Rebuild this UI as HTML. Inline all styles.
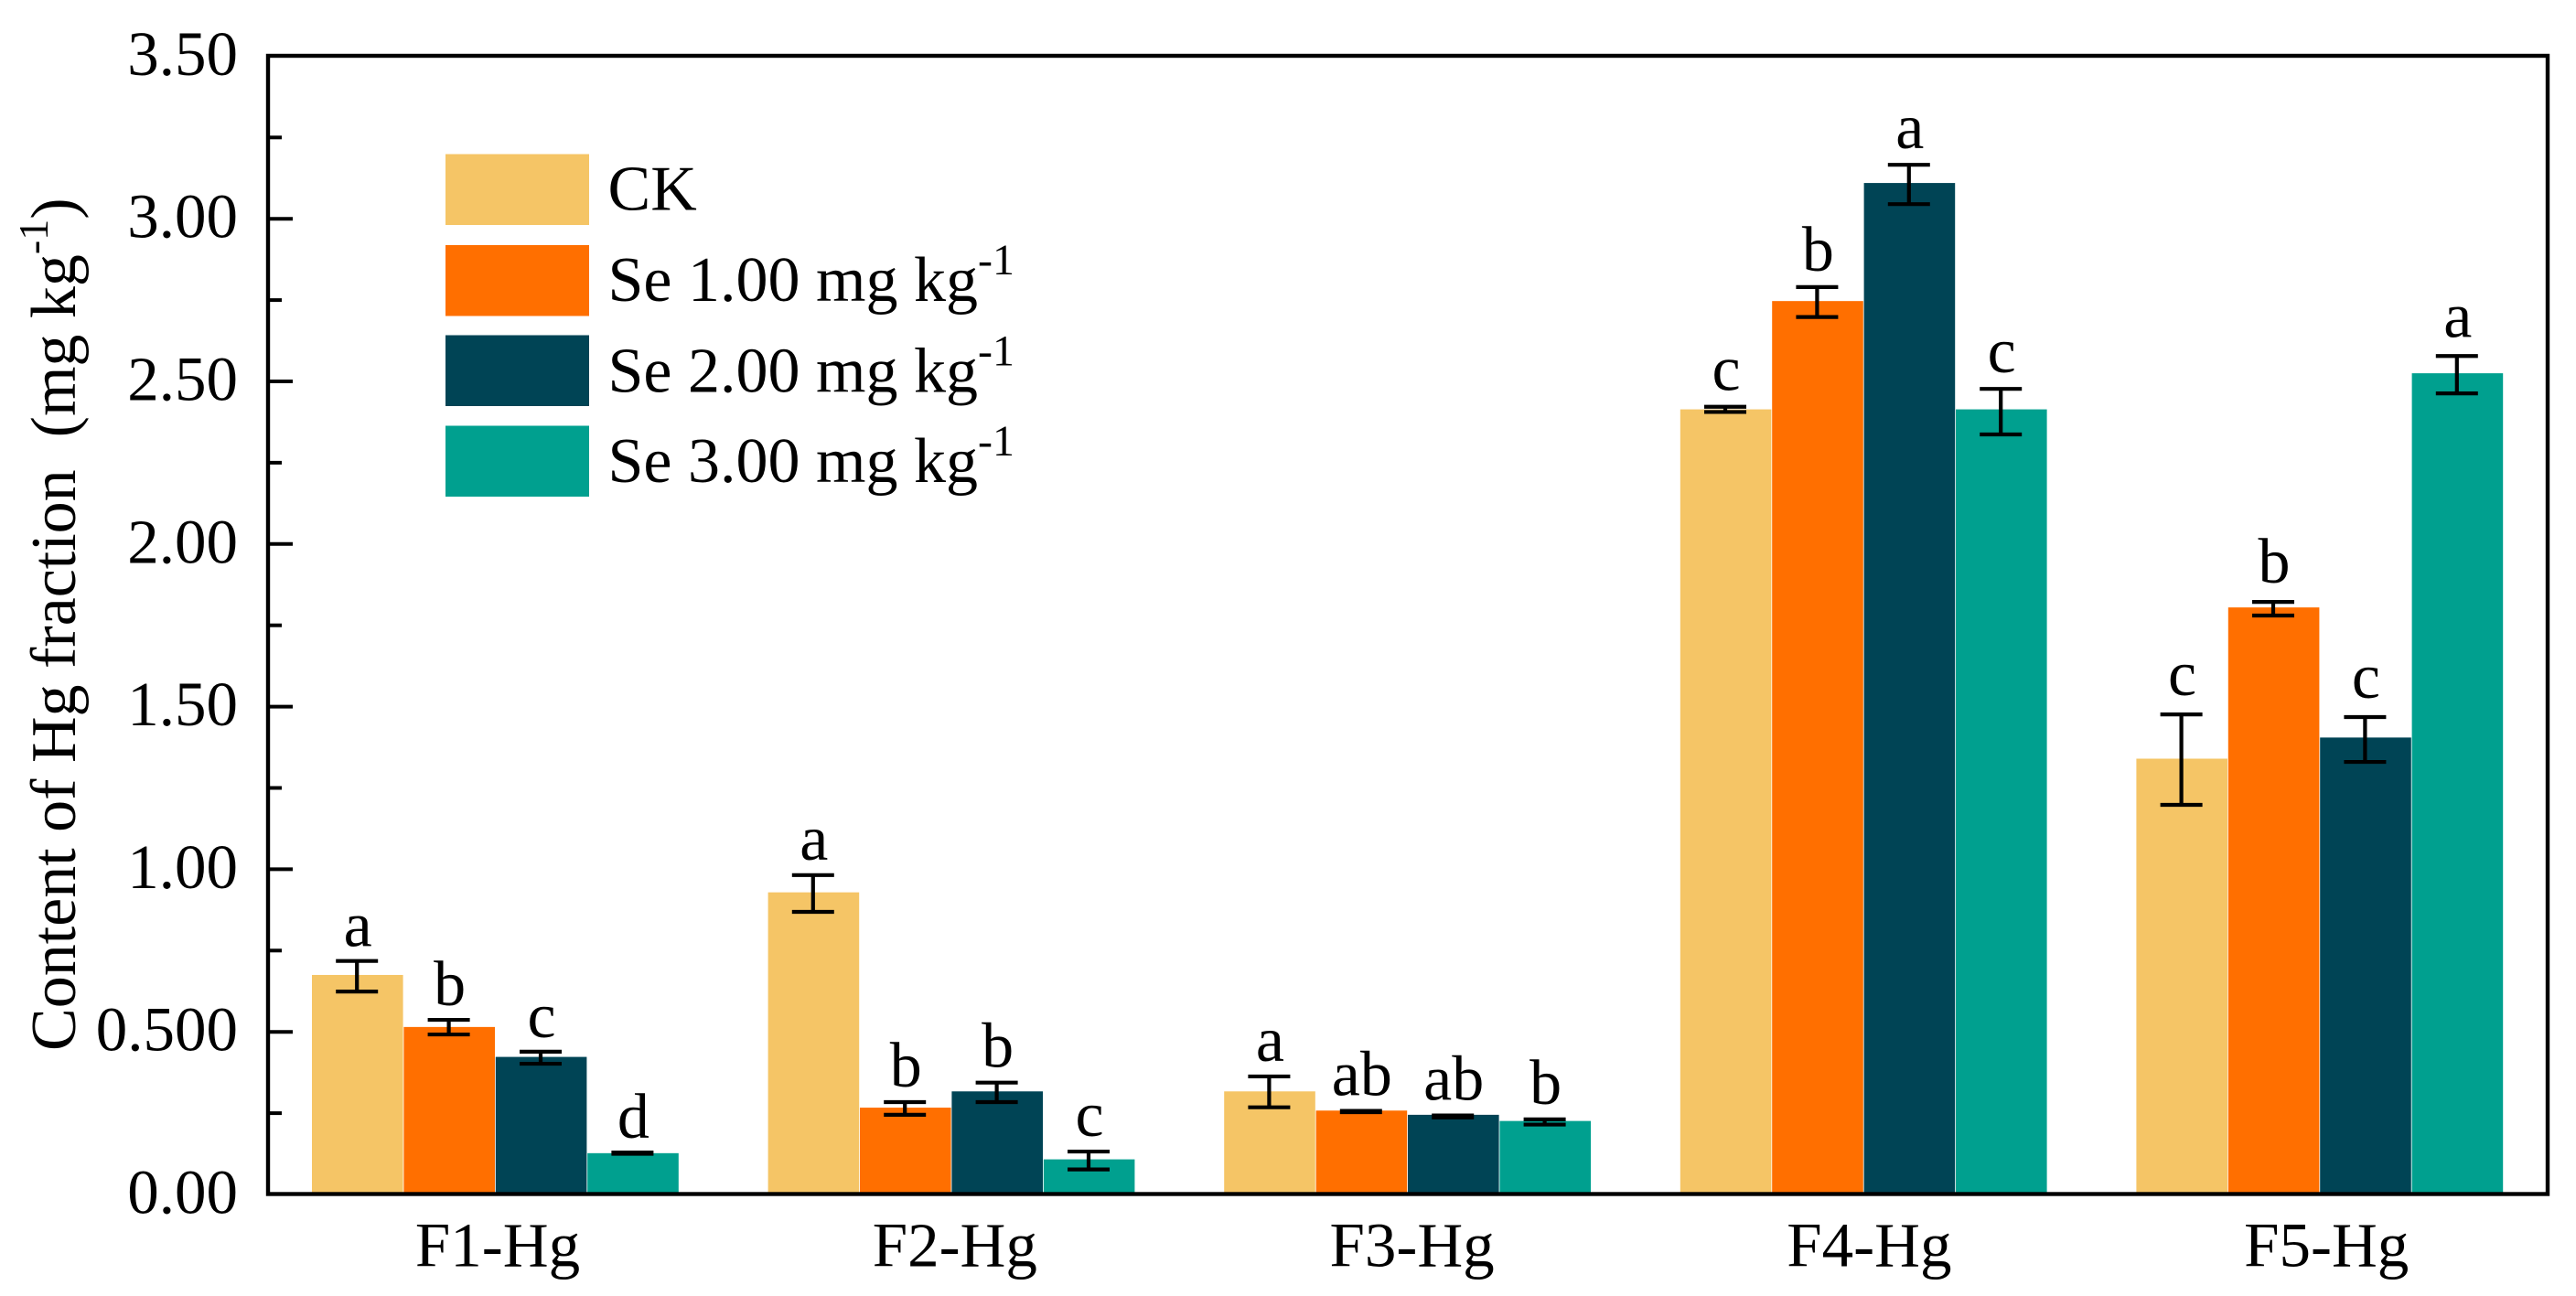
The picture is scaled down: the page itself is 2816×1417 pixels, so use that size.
<!DOCTYPE html>
<html lang="en">
<head>
<meta charset="utf-8">
<title>Content of Hg fraction</title>
<style>
html,body{margin:0;padding:0;background:#fff;}
svg{display:block;}
text{font-family:"Liberation Serif","Times New Roman",serif;fill:#000;white-space:pre;}
</style>
</head>
<body>
<svg id="chart" xmlns="http://www.w3.org/2000/svg" width="2816" height="1417" viewBox="0 0 2816 1417">
  <rect x="0" y="0" width="2816" height="1417" fill="#ffffff"/>
  <g id="bars"></g>
  <g id="errors"></g>
  <g id="letters"></g>
  <g id="axes"></g>
  <text transform="translate(82 1149) rotate(-90)" font-size="70">Content of Hg fraction  (mg kg<tspan font-size="46" dy="-30">-1</tspan><tspan dy="30">)</tspan></text>
  <g>
    <g>
      <rect x="487" y="168.5" width="157" height="77.5" fill="#F5C566"/>
      <text x="664.5" y="229.5" font-size="70">CK</text>
    </g>
    <g>
      <rect x="487" y="268" width="157" height="77.5" fill="#FF6F00"/>
      <text x="664.5" y="329" font-size="70">Se 1.00 mg kg<tspan font-size="48" dy="-29">-1</tspan></text>
    </g>
    <g>
      <rect x="487" y="366.5" width="157" height="77.5" fill="#004455"/>
      <text x="664.5" y="428.5" font-size="70">Se 2.00 mg kg<tspan font-size="48" dy="-29">-1</tspan></text>
    </g>
    <g>
      <rect x="487" y="465.5" width="157" height="77.5" fill="#00A08F"/>
      <text x="664.5" y="527" font-size="70">Se 3.00 mg kg<tspan font-size="48" dy="-29">-1</tspan></text>
    </g>
  </g>
</svg>
<script>
// ---- chart data ----
const categories = ["F1-Hg", "F2-Hg", "F3-Hg", "F4-Hg", "F5-Hg"];
const seriesKeys = ["ck", "se-1", "se-2", "se-3"];

const ckValues  = [0.675, 0.929, 0.317, 2.414, 1.340];
const se1Values = [0.515, 0.267, 0.258, 2.747, 1.805];
const se2Values = [0.423, 0.317, 0.245, 3.110, 1.405];
const se3Values = [0.127, 0.108, 0.226, 2.414, 2.525];

const ckErrHigh  = [0.718, 0.982, 0.363, 2.422, 1.476];
const ckErrLow   = [0.624, 0.869, 0.268, 2.406, 1.198];
const se1ErrHigh = [0.537, 0.284, 0.257, 2.790, 1.822];
const se1ErrLow  = [0.492, 0.245, 0.253, 2.698, 1.780];
const se2ErrHigh = [0.439, 0.344, 0.243, 3.166, 1.468];
const se2ErrLow  = [0.402, 0.284, 0.237, 3.045, 1.330];
const se3ErrHigh = [0.129, 0.132, 0.231, 2.477, 2.578];
const se3ErrLow  = [0.125, 0.077, 0.215, 2.337, 2.463];

const ckLetters  = ["a", "a", "a", "c", "c"];
const se1Letters = ["b", "b", "ab", "b", "b"];
const se2Letters = ["c", "b", "ab", "a", "c"];
const se3Letters = ["d", "c", "b", "c", "a"];

const yTickValues = [0, 0.5, 1, 1.5, 2, 2.5, 3, 3.5];
const yTickLabels = ["0.00", "0.500", "1.00", "1.50", "2.00", "2.50", "3.00", "3.50"];
const yMinorTicks = [0.25, 0.75, 1.25, 1.75, 2.25, 2.75, 3.25];

const seriesColors = ["#F5C566", "#FF6F00", "#004455", "#00A08F"];
const seriesValues = [ckValues, se1Values, se2Values, se3Values];
const seriesHigh = [ckErrHigh, se1ErrHigh, se2ErrHigh, se3ErrHigh];
const seriesLow = [ckErrLow, se1ErrLow, se2ErrLow, se3ErrLow];
const seriesLetters = [ckLetters, se1Letters, se2Letters, se3Letters];

// ---- axis functions ----
const plotLeft = 293, plotRight = 2785, plotTop = 61, plotBottom = 1305.5;
const yZero = 1306, yPerUnit = 355.6;
const groupStart = 341, groupStep = 498.6, barWidth = 100.4;
function yScale(v) { return yZero - v * yPerUnit; }
function xBar(groupIndex, seriesIndex) { return groupStart + groupIndex * groupStep + seriesIndex * barWidth; }
function xLabel(groupIndex) { return 544 + groupIndex * 499.8; }

const NS = "http://www.w3.org/2000/svg";
function make(tag, parent, attrs) {
  const el = document.createElementNS(NS, tag);
  for (const k in attrs) el.setAttribute(k, attrs[k]);
  parent.appendChild(el);
  return el;
}
const barsLayer = document.getElementById("bars");
const errorsLayer = document.getElementById("errors");
const lettersLayer = document.getElementById("letters");
const axesLayer = document.getElementById("axes");
const letterGapByGroup = [16, 17, 17, 18, 21];

categories.forEach(function (cat, g) {
  seriesValues.forEach(function (vals, s) {
    const x = xBar(g, s);
    const top = yScale(vals[g]);
    const bar = make("rect", barsLayer, { x: x, y: top, width: barWidth - 0.8, height: 1304.5 - top, fill: seriesColors[s] });
    
    

    const cx = x + barWidth / 2 - 1;
    const hi = yScale(seriesHigh[s][g]);
    const lo = yScale(seriesLow[s][g]);
    const err = make("path", errorsLayer, {
      d: "M" + cx + " " + hi + "V" + lo + "M" + (cx - 23) + " " + hi + "H" + (cx + 23) + "M" + (cx - 23) + " " + lo + "H" + (cx + 23),
      stroke: "#000", "stroke-width": 4.2, fill: "none"
    });
    
    

    const letter = make("text", lettersLayer, { x: cx + 1, y: hi - letterGapByGroup[g], "font-size": 70, "text-anchor": "middle" });
    letter.textContent = seriesLetters[s][g];
    
    
  });

  const label = make("text", axesLayer, { x: xLabel(g), y: 1384.5, "font-size": 69, "text-anchor": "middle" });
  label.textContent = cat;
  
  
});

yTickValues.forEach(function (v, i) {
  const y = yScale(v);
  if (i > 0 && i < yTickValues.length - 1) {
    const tick = make("line", axesLayer, { x1: plotLeft, x2: plotLeft + 27, y1: y, y2: y, stroke: "#000", "stroke-width": 4 });
    
    
  }
  const t = make("text", axesLayer, { x: 260, y: y + 20.5, "font-size": 69, "text-anchor": "end" });
  t.textContent = yTickLabels[i];
  
  
});

yMinorTicks.forEach(function (v) {
  const y = yScale(v);
  const tick = make("line", axesLayer, { x1: plotLeft, x2: plotLeft + 15, y1: y, y2: y, stroke: "#000", "stroke-width": 4 });
  
  
});

const frame = make("rect", axesLayer, { x: plotLeft, y: plotTop, width: plotRight - plotLeft, height: plotBottom - plotTop, fill: "none", stroke: "#000", "stroke-width": 4.4 });


</script>
</body>
</html>
